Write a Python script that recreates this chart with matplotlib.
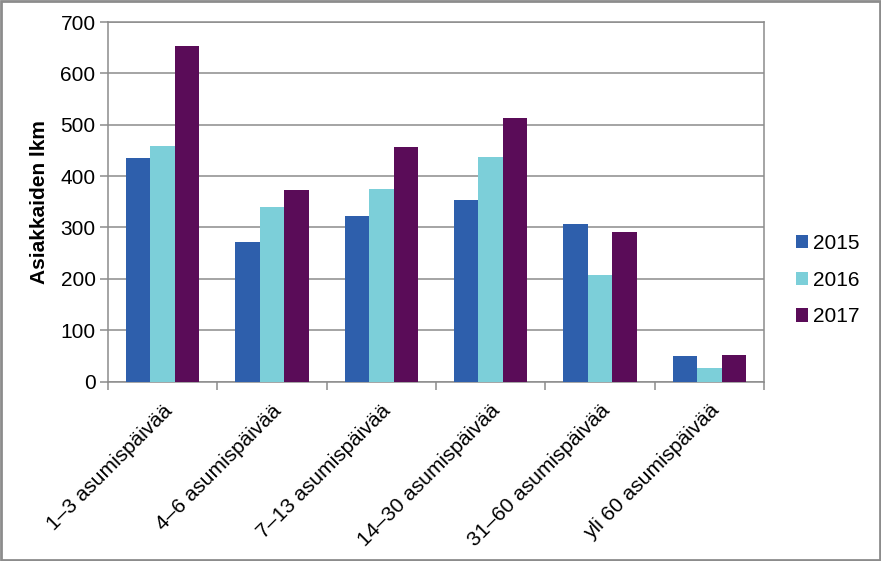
import matplotlib
matplotlib.use("Agg")
import matplotlib.pyplot as plt
import numpy as np
from matplotlib.patches import Rectangle

categories = ["1–3 asumispäivää", "4–6 asumispäivää", "7–13 asumispäivää",
              "14–30 asumispäivää", "31–60 asumispäivää", "yli 60 asumispäivää"]
years = ["2015", "2016", "2017"]
v2015 = [435, 272, 323, 354, 307, 49]
v2016 = [458, 340, 374, 438, 208, 27]
v2017 = [653, 372, 457, 514, 292, 51]
colors = ["#2E5FAC", "#7CCFD9", "#5A0C58"]
yticks = [0, 100, 200, 300, 400, 500, 600, 700]

plt.rcParams['font.family'] = ['Liberation Sans', 'DejaVu Sans']
fs = 15

fig = plt.figure(figsize=(8.81, 5.61), dpi=100)
ax = fig.add_axes([108/881, 1-381.5/561, (764-108)/881, (381.5-22)/561])

x = np.arange(len(categories))
w = 0.223
for i, (vals, c, lab) in enumerate(zip([v2015, v2016, v2017], colors, years)):
    ax.bar(x + (i-1)*w, vals, width=w, color=c, label=lab, zorder=3)

ax.set_xlim(-0.5, len(categories)-0.5)
ax.set_ylim(0, 700)
ax.set_yticks(yticks)
ax.set_yticklabels([str(t) for t in yticks], fontsize=fs)
ax.yaxis.grid(True, color="#8C8C8C", linewidth=1.1, zorder=0)
ax.set_axisbelow(True)

ax.set_xticks(np.arange(-0.5, len(categories), 1.0))
ax.set_xticklabels([])
ax.set_xticks(x, minor=True)
ax.set_xticklabels(categories, minor=True, rotation=45, ha='right',
                   rotation_mode='anchor', fontsize=fs)
ax.tick_params(axis='x', which='minor', length=0, pad=14)
ax.tick_params(axis='x', which='major', length=6, color="#8C8C8C", width=1.1)
ax.tick_params(axis='y', length=6, color="#8C8C8C", width=1.1, pad=3)

for s in ['left', 'bottom', 'right', 'top']:
    ax.spines[s].set_color("#8C8C8C")
    ax.spines[s].set_linewidth(1.1)

ax.set_ylabel("Asiakkaiden lkm", fontsize=fs, fontweight='bold', labelpad=8)

ax.legend(loc='center left', bbox_to_anchor=(1.02, 0.282), frameon=False,
          fontsize=fs, handlelength=0.6, handleheight=0.6, handletextpad=0.2,
          labelspacing=0.85)

fig.patches.append(Rectangle((0.001, 0.001), 0.998, 0.997, transform=fig.transFigure,
                             fill=False, edgecolor="#8C8C8C", linewidth=2))

fig.savefig("out.png", dpi=100)
